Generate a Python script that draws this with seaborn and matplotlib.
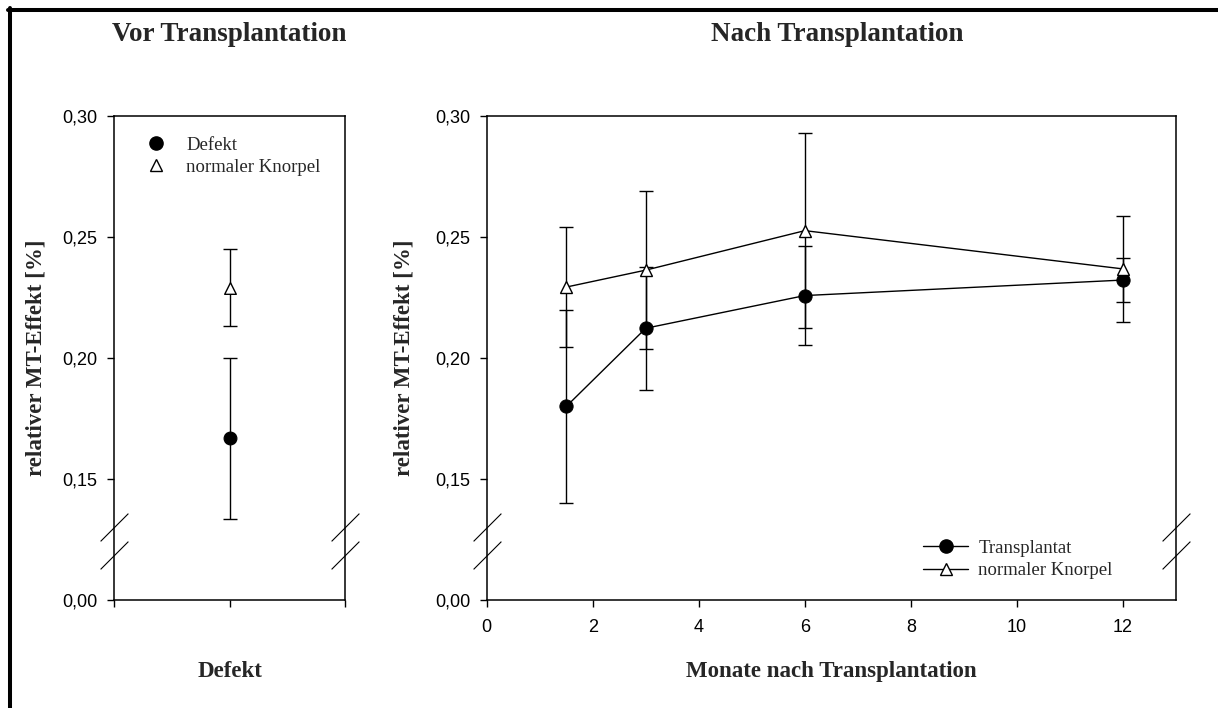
import numpy as np
import pandas as pd
import matplotlib
matplotlib.use("Agg")
import matplotlib.pyplot as plt
from matplotlib.lines import Line2D
import seaborn as sns

# ---------------- data ----------------
vor_category = ["Defekt"]
vor_defekt_mean = [0.1668]
vor_defekt_err = [0.0332]
vor_knorpel_mean = [0.2290]
vor_knorpel_err = [0.0160]

months = [1.5, 3, 6, 12]
transplantat_mean = [0.1799, 0.2122, 0.2257, 0.2321]
transplantat_err = [0.0400, 0.0254, 0.0203, 0.0089]
knorpel_mean = [0.2292, 0.2362, 0.2525, 0.2367]
knorpel_err = [0.0248, 0.0326, 0.0403, 0.0218]

y_ticks = [0.00, 0.15, 0.20, 0.25, 0.30]
y_ticklabels = ["0,00", "0,15", "0,20", "0,25", "0,30"]
x_ticks_right = [0, 2, 4, 6, 8, 10, 12]

# ---------------- style ----------------
sns.set_theme(style="ticks")
plt.rcParams["font.family"] = ["Liberation Serif", "DejaVu Serif"]
plt.rcParams["axes.linewidth"] = 1.1
plt.rcParams["xtick.major.width"] = 1.0
plt.rcParams["ytick.major.width"] = 1.0
plt.rcParams["xtick.direction"] = "out"
plt.rcParams["ytick.direction"] = "out"

W, H = 1218, 708
fig = plt.figure(figsize=(W / 100, H / 100), dpi=100)
fig.patch.set_facecolor("white")

# broken y axis: piecewise linear scale
src = [-1.0, 0.0, 0.0186, 0.1299, 0.30, 1.0]
dst = [-0.90, 0.10, 0.1186, 0.1299, 0.30, 1.0]
def fwd(y):
    return np.interp(y, src, dst)
def inv(t):
    return np.interp(t, dst, src)

def px_axes(x0, x1, ytop, ybot):
    return fig.add_axes([x0 / W, 1 - ybot / H, (x1 - x0) / W, (ybot - ytop) / H])

ax1 = px_axes(114, 345, 115.6, 600)
ax2 = px_axes(486.7, 1176, 115.6, 600)

tick_font = dict(family=["Liberation Sans", "DejaVu Sans"], size=13)
label_font = dict(family=["Liberation Serif", "DejaVu Serif"], size=16.5, weight="bold")
title_font = dict(family=["Liberation Serif", "DejaVu Serif"], size=19.5, weight="bold")
legend_prop = dict(family=["Liberation Serif"], size=13.5)

for ax in (ax1, ax2):
    ax.set_yscale("function", functions=(fwd, inv))
    ax.set_ylim(0, 0.30)
    ax.set_yticks(y_ticks)
    ax.set_yticklabels(y_ticklabels, fontdict=tick_font)
    ax.tick_params(axis="y", colors="black", pad=7, length=5.0)
    ax.tick_params(axis="x", colors="black", pad=8.5, length=5.0)
    for s in ax.spines.values():
        s.set_visible(True)
        s.set_color("black")
    ax.set_facecolor("white")
    ax.grid(False)
    # break marks on both sides
    for xa in (0, 1):
        ax.plot([xa, xa], [0.093, 0.1507], transform=ax.transAxes,
                marker=[(-1, -1), (1, 1)], markersize=20, linestyle="none",
                color="black", markeredgewidth=0.8, clip_on=False, zorder=5)

# ---------------- left panel ----------------
ax1.set_xlim(0, 2)
ax1.set_xticks([0, 1, 2])
ax1.set_xticklabels(["", "", ""])
xpos = [1]
ax1.errorbar(xpos, vor_defekt_mean, yerr=vor_defekt_err, fmt="none",
             ecolor="black", elinewidth=1.0, capsize=5.2, capthick=1.0, zorder=2)
ax1.errorbar(xpos, vor_knorpel_mean, yerr=vor_knorpel_err, fmt="none",
             ecolor="black", elinewidth=1.0, capsize=5.2, capthick=1.0, zorder=2)
dleft = pd.DataFrame({"x": xpos, "Defekt": vor_defekt_mean, "Knorpel": vor_knorpel_mean})
sns.scatterplot(data=dleft, x="x", y="Defekt", ax=ax1, marker="o", s=85,
                color="black", edgecolor="black", linewidth=0.8, zorder=4)
sns.scatterplot(data=dleft, x="x", y="Knorpel", ax=ax1, marker="^", s=70,
                color="white", edgecolor="black", linewidth=1.0, zorder=4)
ax1.set_title("Vor Transplantation", fontdict=title_font, pad=54)
ax1.set_ylabel("relativer MT-Effekt [%]", fontdict=label_font)
ax1.set_xlabel("Defekt", fontdict=label_font)

h1 = [Line2D([], [], linestyle="none", marker="o", markersize=9.5,
             markerfacecolor="black", markeredgecolor="black"),
      Line2D([], [], linestyle="none", marker="^", markersize=8,
             markerfacecolor="white", markeredgecolor="black")]
ax1.legend(h1, ["Defekt", "normaler Knorpel"], loc="upper left",
           bbox_to_anchor=(0.125, 0.956), frameon=False, borderpad=0,
           borderaxespad=0, handlelength=1.35, handletextpad=0.95,
           labelspacing=0.25, prop=legend_prop)

# ---------------- right panel ----------------
ax2.set_xlim(0, 13)
ax2.set_xticks(x_ticks_right)
ax2.set_xticklabels([str(v) for v in x_ticks_right], fontdict=tick_font)
ax2.errorbar(months, transplantat_mean, yerr=transplantat_err, fmt="none",
             ecolor="black", elinewidth=1.0, capsize=5.2, capthick=1.0, zorder=2)
ax2.errorbar(months, knorpel_mean, yerr=knorpel_err, fmt="none",
             ecolor="black", elinewidth=1.0, capsize=5.2, capthick=1.0, zorder=2)
dright = pd.DataFrame({"Monate": months, "Transplantat": transplantat_mean,
                       "Knorpel": knorpel_mean})
sns.lineplot(data=dright, x="Monate", y="Transplantat", ax=ax2, color="black",
             linewidth=1.0, marker="o", markersize=9.5, markerfacecolor="black",
             markeredgecolor="black", zorder=4)
sns.lineplot(data=dright, x="Monate", y="Knorpel", ax=ax2, color="black",
             linewidth=1.0, marker="^", markersize=8, markerfacecolor="white",
             markeredgecolor="black", markeredgewidth=1.0, zorder=4)
ax2.set_title("Nach Transplantation", fontdict=title_font, pad=54)
ax2.title.set_x((837.5 - 486.7) / 689.3)
ax2.set_ylabel("relativer MT-Effekt [%]", fontdict=label_font)
ax2.set_xlabel("Monate nach Transplantation", fontdict=label_font)

h2 = [Line2D([], [], color="black", linewidth=1.0, marker="o", markersize=9.5,
             markerfacecolor="black", markeredgecolor="black"),
      Line2D([], [], color="black", linewidth=1.0, marker="^", markersize=8,
             markerfacecolor="white", markeredgecolor="black")]
ax2.legend(h2, ["Transplantat", "normaler Knorpel"], loc="upper left",
           bbox_to_anchor=(0.633, 0.125), frameon=False, borderpad=0,
           borderaxespad=0, handlelength=2.4, handletextpad=0.55,
           labelspacing=0.3, prop=legend_prop)

# label placement
ax1.yaxis.set_label_coords((36 - 114) / 231, 0.5)
ax2.yaxis.set_label_coords((404 - 486.7) / 689.3, 0.5)
for ax in (ax1, ax2):
    ax.yaxis.label.set_va("center")
    ax.xaxis.label.set_va("baseline")
    ax.xaxis.set_label_coords(0.5, (600 - 677) / 484.4)

# page frame (top and left edges)
fig.add_artist(Line2D([8 / W, 1.0], [1 - 10 / H, 1 - 10 / H], color="black",
                      linewidth=2.9, transform=fig.transFigure))
fig.add_artist(Line2D([10 / W, 10 / W], [0.0, 1 - 8 / H], color="black",
                      linewidth=2.9, transform=fig.transFigure))

fig.savefig("out.png", dpi=100, facecolor="white")
